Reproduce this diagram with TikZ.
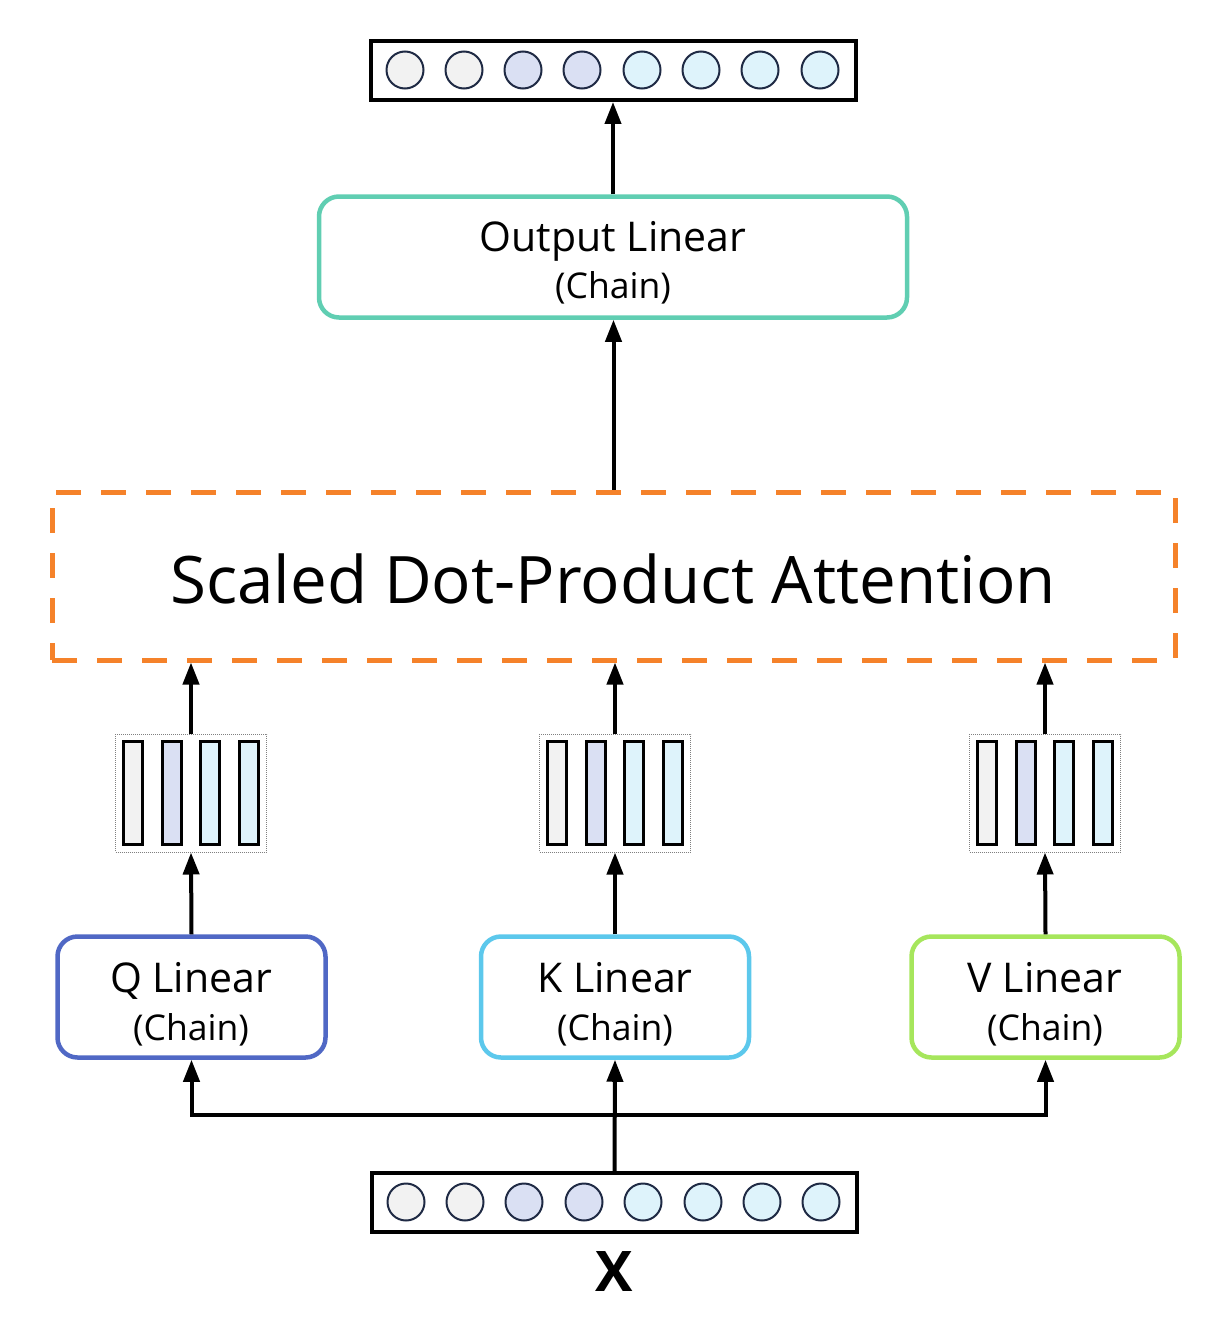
\documentclass[tikz,border=0pt]{standalone}
\usepackage{fontspec}
\setmainfont{Open Sans}
\usetikzlibrary{arrows.meta}
\definecolor{qcol}{RGB}{80,104,197}
\definecolor{kcol}{RGB}{92,200,236}
\definecolor{vcol}{RGB}{166,230,92}
\definecolor{ocol}{RGB}{96,206,178}
\definecolor{acol}{RGB}{245,130,42}
\definecolor{cgray}{RGB}{242,242,242}
\definecolor{clav}{RGB}{218,224,243}
\definecolor{ccyan}{RGB}{222,243,251}
\definecolor{cstroke}{RGB}{31,42,68}
\tikzset{
  lbox/.style={draw=#1, line width=4.5pt, rounded corners=20pt, minimum width=268pt, minimum height=121pt, inner sep=0pt},
  vecbox/.style={draw=black, line width=4pt, minimum width=485pt, minimum height=59pt, inner sep=0pt},
  dot/.style={circle, draw=cstroke, line width=2pt, minimum size=37pt, inner sep=0pt, fill=#1},
  barsbox/.style={draw=gray, densely dotted, line width=1pt, minimum width=151pt, minimum height=118pt, inner sep=0pt},
  bar/.style={draw=black, line width=2.5pt, minimum width=19pt, minimum height=103pt, inner sep=0pt, fill=#1},
  arr/.style={line width=4pt, -{Triangle[length=22pt, width=16pt]}},
  big/.style={anchor=base, inner sep=0pt, font=\fontsize{41}{48}\selectfont},
  small/.style={anchor=base, inner sep=0pt, font=\fontsize{35.5}{42}\selectfont},
}
\begin{document}
\begin{tikzpicture}[x=1pt,y=-1pt]
\useasboundingbox (0,0) rectangle (1211,1335);

% top output vector
\node[vecbox] (top) at (613.5,70.5) {};
\foreach \i/\x/\c in {1/405/cgray,2/464/cgray,3/523/clav,4/582/clav,5/642/ccyan,6/701/ccyan,7/760/ccyan,8/820/ccyan}
  \node[dot=\c] (t\i) at (\x,70) {};

% Output linear
\node[lbox=ocol, minimum width=588pt] (outl) at (613,257) {};
\node[big] (outt1) at (613,251) {Output Linear};
\node[small] (outt2) at (613,298) {(Chain)};

% attention
\node[draw=acol, line width=5pt, dash pattern=on 25pt off 20pt, minimum width=1123pt, minimum height=168pt, inner sep=0pt] (att) at (613.5,576) {};
\node[anchor=base, inner sep=0pt, font=\fontsize{65.5}{70}\selectfont] (attt) at (613,603) {Scaled Dot-Product Attention};

% bar groups
\foreach \n/\cx in {qb/191,kb/615,vb/1045}{
  \node[barsbox] (\n) at (\cx,793) {};
  \node[bar=cgray] (\n1) at (\cx-58,793) {};
  \node[bar=clav] (\n2) at (\cx-19,793) {};
  \node[bar=ccyan] (\n3) at (\cx+19,793) {};
  \node[bar=ccyan] (\n4) at (\cx+58,793) {};
}

% linear boxes
\node[lbox=qcol] (ql) at (191.5,997) {};
\node[big] (qt1) at (191,992) {Q Linear};
\node[small] (qt2) at (191,1040) {(Chain)};
\node[lbox=kcol] (kl) at (615,997) {};
\node[big] (kt1) at (615,992) {K Linear};
\node[small] (kt2) at (615,1040) {(Chain)};
\node[lbox=vcol] (vl) at (1045.5,997) {};
\node[big] (vt1) at (1045,992) {V Linear};
\node[small] (vt2) at (1045,1040) {(Chain)};

% bottom input vector
\node[vecbox] (xv) at (614.5,1202.5) {};
\foreach \i/\x/\c in {1/406/cgray,2/465/cgray,3/524/clav,4/584/clav,5/643/ccyan,6/703/ccyan,7/762/ccyan,8/821/ccyan}
  \node[dot=\c] (b\i) at (\x,1202) {};
\node[anchor=base, inner sep=0pt, font=\fontsize{56}{60}\selectfont\bfseries] (xl) at (614.5,1291) {X};

% connectors
\draw[arr] (outl.north) -- (outl.north |- top.south);
\draw[arr] (att.north) -- (att.north |- outl.south);
\foreach \b/\l in {qb/ql,kb/kl,vb/vl}{
  \draw[arr] (\b.north) -- (\b.north |- att.south);
  \draw[arr] (\l.north) -- (\b.south);
}
\coordinate (j) at (614.5,1115);
\draw[arr] (xv.north) -- (kl.south);
\draw[arr, line join=miter] (j) -| (ql.south);
\draw[arr, line join=miter] (j) -| (vl.south);
\end{tikzpicture}
\end{document}
